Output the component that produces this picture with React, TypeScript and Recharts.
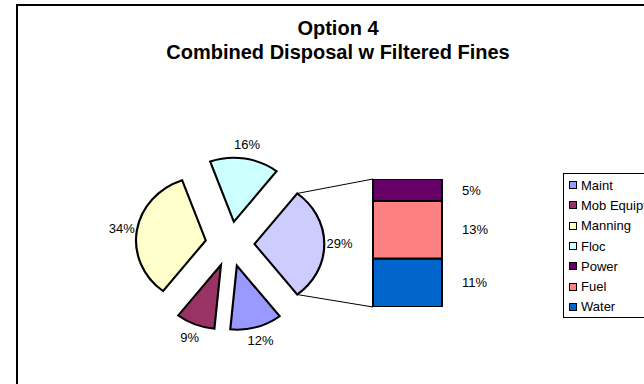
import { PieChart, Pie, Cell, BarChart, Bar, XAxis, YAxis, LabelList, Legend } from 'recharts';

// pie slices, clockwise starting with the grouped "other" slice facing the bar
const pieNames = ['Other', 'Maint', 'Mob Equipt', 'Manning', 'Floc'];
const pieValues = [29, 12, 9, 34, 16];
const pieColors = ['#CCCCFF', '#9999FF', '#993366', '#FFFFCC', '#CCFFFF'];

// the split-out bar, bottom to top
const barNames = ['Water', 'Fuel', 'Power'];
const barValues = [11, 13, 5];
const barColors = ['#0066CC', '#FF8080', '#660066'];

const legendNames = ['Maint', 'Mob Equipt', 'Manning', 'Floc', 'Power', 'Fuel', 'Water'];
const legendColors = ['#9999FF', '#993366', '#FFFFCC', '#CCFFFF', '#660066', '#FF8080', '#0066CC'];

const FONT = '"Liberation Sans", Arial, sans-serif';
const RAD = Math.PI / 180;

const PIE_CX = 230;
const PIE_CY = 244;
const PIE_R = 64;
const PIE_SX = 1.09; // the original pie is drawn a little wider than tall
const EXPLODE = 22.5;

const BAR_LEFT = 371;
const BAR_TOP = 177;
const BAR_W = 69;
const BAR_H = 128;
const BAR_PAD = 2;

const pieData = pieNames.map((name, i) => ({ name, value: pieValues[i], color: pieColors[i] }));
const pieTotal = pieValues.reduce((a, b) => a + b, 0);
const startAngle = (pieValues[0] / pieTotal) * 180;

const midAngles = pieValues.map((v, i) => {
  const before = pieValues.slice(0, i).reduce((a, b) => a + b, 0);
  return startAngle - ((before + v / 2) / pieTotal) * 360;
});

const barRow: Record<string, string | number> = { name: 'Other' };
barNames.forEach((n, i) => { barRow[n] = barValues[i]; });
const barTotal = barValues.reduce((a, b) => a + b, 0);

function sliceLabel(k: number) {
  return (props: any) => {
    if (props.index !== k) return null;
    const r = props.outerRadius + 14;
    const x = props.cx + r * Math.cos(-props.midAngle * RAD);
    const y = props.cy + r * Math.sin(-props.midAngle * RAD);
    // undo the horizontal stretch for the text itself
    return (
      <text
        x={x}
        y={y}
        transform={`translate(${x} 0) scale(${1 / PIE_SX} 1) translate(${-x} 0)`}
        textAnchor="middle"
        dominantBaseline="central"
        fontSize={13}
        fontFamily={FONT}
        fill="#000"
      >
        {`${props.value}%`}
      </text>
    );
  };
}

function LegendBox() {
  return (
    <div style={{ border: '1px solid #000', background: '#fff', paddingTop: 1, width: 100, boxSizing: 'border-box' }}>
      {legendNames.map((n, i) => (
        <div key={n} style={{ height: 20.3, display: 'flex', alignItems: 'center', fontFamily: FONT, fontSize: 13, color: '#000', whiteSpace: 'nowrap' }}>
          <span style={{ display: 'inline-block', width: 6, height: 6, border: '1.5px solid #000', background: legendColors[i], marginLeft: 5, marginRight: 4 }} />
          {n}
        </div>
      ))}
    </div>
  );
}

export default function App() {
  const ox = PIE_CX + EXPLODE * Math.cos(-midAngles[0] * RAD);
  const oy = PIE_CY + EXPLODE * Math.sin(-midAngles[0] * RAD);
  const sx = (x: number) => PIE_CX + (x - PIE_CX) * PIE_SX;
  const topCorner = [sx(ox + PIE_R * Math.cos(-startAngle * RAD)), oy + PIE_R * Math.sin(-startAngle * RAD)];
  const botCorner = [sx(ox + PIE_R * Math.cos(startAngle * RAD)), oy + PIE_R * Math.sin(startAngle * RAD)];
  const barX = BAR_LEFT + BAR_PAD;
  const barY = BAR_TOP + BAR_PAD;

  return (
    <div style={{ position: 'fixed', left: 0, top: 0, width: 644, height: 384, overflow: 'hidden', background: '#fff' }}>
      <div style={{ position: 'absolute', left: 16, top: 4, width: 700, height: 450, border: '2px solid #000' }} />
      <div style={{ position: 'absolute', left: 0, top: 16, width: 676, textAlign: 'center', fontFamily: FONT, fontWeight: 'bold', fontSize: 20, lineHeight: '24px', color: '#000' }}>
        Option 4<br />Combined Disposal w Filtered Fines
      </div>

      <div style={{ position: 'absolute', left: 0, top: 0, transform: `scaleX(${PIE_SX})`, transformOrigin: `${PIE_CX}px 0px` }}>
        <PieChart width={500} height={384} margin={{ top: 0, right: 0, bottom: 0, left: 0 }}>
          {pieData.map((_, k) => (
            <Pie
              key={k}
              data={pieData}
              dataKey="value"
              nameKey="name"
              cx={PIE_CX + EXPLODE * Math.cos(-midAngles[k] * RAD)}
              cy={PIE_CY + EXPLODE * Math.sin(-midAngles[k] * RAD)}
              outerRadius={PIE_R}
              startAngle={startAngle}
              endAngle={startAngle - 360}
              isAnimationActive={false}
              label={sliceLabel(k)}
              labelLine={false}
              strokeWidth={2}
            >
              {pieData.map((e, i) => (
                <Cell key={i} fill={i === k ? e.color : 'none'} stroke={i === k ? '#000' : 'none'} />
              ))}
            </Pie>
          ))}
        </PieChart>
      </div>

      <div style={{ position: 'absolute', left: BAR_LEFT, top: BAR_TOP }}>
        <BarChart
          width={BAR_W + BAR_PAD + 70}
          height={BAR_H + BAR_PAD * 2}
          data={[barRow]}
          margin={{ top: BAR_PAD, right: 70, bottom: BAR_PAD, left: BAR_PAD }}
          barCategoryGap={0}
        >
          <XAxis dataKey="name" hide />
          <YAxis type="number" domain={[0, barTotal]} allowDataOverflow hide />
          {barNames.map((n, i) => (
            <Bar key={n} dataKey={n} stackId="a" fill={barColors[i]} stroke="#000" strokeWidth={2} isAnimationActive={false}>
              <LabelList
                dataKey={n}
                position="right"
                offset={20}
                formatter={(v: any) => `${v}%`}
                style={{ fontSize: 13, fontFamily: FONT, fill: '#000' }}
              />
            </Bar>
          ))}
        </BarChart>
      </div>

      <div style={{ position: 'absolute', left: 0, top: 0 }}>
        <PieChart width={644} height={384} margin={{ top: 0, right: 0, bottom: 0, left: 0 }}>
          <Legend content={() => <LegendBox />} wrapperStyle={{ left: 563, top: 173, width: 100 }} />
        </PieChart>
      </div>

      <svg width={644} height={384} style={{ position: 'absolute', left: 0, top: 0, pointerEvents: 'none' }}>
        <line x1={topCorner[0]} y1={topCorner[1]} x2={barX} y2={barY} stroke="#000" strokeWidth={1} />
        <line x1={botCorner[0]} y1={botCorner[1]} x2={barX} y2={barY + BAR_H} stroke="#000" strokeWidth={1} />
      </svg>
    </div>
  );
}
